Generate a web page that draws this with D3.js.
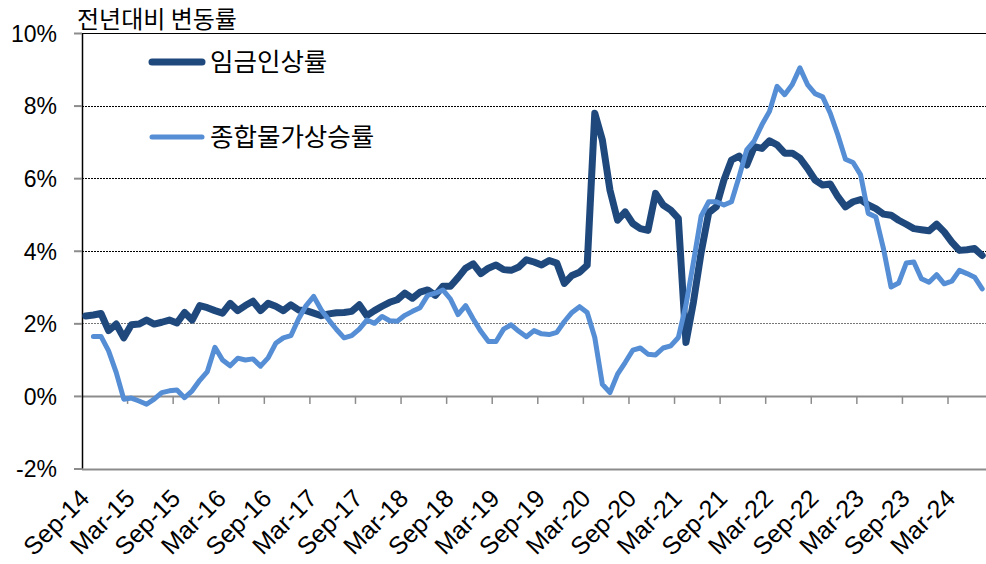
<!DOCTYPE html>
<html>
<head>
<meta charset="utf-8">
<script src="https://cdn.jsdelivr.net/npm/d3@7"></script>
<style>
  html, body { margin: 0; padding: 0; background: #fff; }
  svg { display: block; }
</style>
</head>
<body>
<div id="canvas"></div>
<script>
// monthly categories, Sep-14 .. Jul-24
const months = d3.timeMonth.range(new Date(2014, 8, 1), new Date(2024, 7, 1));

const tickLabels = ["Sep-14", "Mar-15", "Sep-15", "Mar-16", "Sep-16", "Mar-17", "Sep-17",
  "Mar-18", "Sep-18", "Mar-19", "Sep-19", "Mar-20", "Sep-20", "Mar-21", "Sep-21",
  "Mar-22", "Sep-22", "Mar-23", "Sep-23", "Mar-24"];

const yTicks = [-2, 0, 2, 4, 6, 8, 10];

const seriesNames = ["임금인상률", "종합물가상승률"];

// 임금인상률
const wage = [
  2.2, 2.23, 2.27, 1.8, 1.98, 1.6, 1.96, 1.98, 2.09, 1.98,
  2.03, 2.09, 2.01, 2.3, 2.09, 2.49, 2.43, 2.35, 2.28, 2.55,
  2.35, 2.49, 2.61, 2.35, 2.55, 2.47, 2.35, 2.51, 2.37, 2.35,
  2.28, 2.21, 2.26, 2.29, 2.3, 2.33, 2.51, 2.21, 2.35, 2.47,
  2.58, 2.65, 2.83, 2.69, 2.86, 2.92, 2.77, 3.02, 3.02, 3.26,
  3.52, 3.64, 3.37, 3.52, 3.61, 3.48, 3.46, 3.55, 3.75, 3.69,
  3.61, 3.73, 3.66, 3.1, 3.32, 3.41, 3.6, 7.79, 7.05, 5.67,
  4.84, 5.07, 4.75, 4.61, 4.56, 5.58, 5.26, 5.12, 4.89, 1.47,
  2.6, 3.95, 5.05, 5.21, 5.95, 6.5, 6.61, 6.36, 6.87, 6.82,
  7.03, 6.92, 6.69, 6.69, 6.55, 6.27, 5.95, 5.81, 5.84, 5.49,
  5.21, 5.35, 5.41, 5.26, 5.16, 5.01, 4.98, 4.84, 4.73, 4.61,
  4.58, 4.55, 4.73, 4.52, 4.24, 4.01, 4.03, 4.06, 3.87
];

// 종합물가상승률
const cpi = [
  null, 1.64, 1.64, 1.24, 0.65, -0.09, -0.06, -0.14, -0.23, -0.09,
  0.09, 0.14, 0.16, -0.05, 0.14, 0.43, 0.67, 1.34, 0.99, 0.83,
  1.04, 0.99, 1.02, 0.82, 1.05, 1.45, 1.6, 1.66, 2.12, 2.49,
  2.74, 2.37, 2.09, 1.83, 1.6, 1.66, 1.84, 2.09, 2.0, 2.19,
  2.07, 2.06, 2.22, 2.33, 2.43, 2.77, 2.83, 2.92, 2.67, 2.24,
  2.49, 2.12, 1.78, 1.5, 1.5, 1.84, 1.96, 1.78, 1.63, 1.8,
  1.71, 1.69, 1.75, 2.05, 2.3, 2.46, 2.3, 1.61, 0.32, 0.09,
  0.6, 0.92, 1.26, 1.32, 1.15, 1.13, 1.32, 1.38, 1.61, 2.5,
  3.7, 4.95, 5.35, 5.35, 5.26, 5.35, 6.04, 6.78, 7.03, 7.47,
  7.84, 8.53, 8.3, 8.58, 9.04, 8.58, 8.33, 8.24, 7.79, 7.19,
  6.52, 6.43, 6.09, 5.03, 4.93, 4.06, 3.0, 3.11, 3.66, 3.69,
  3.23, 3.13, 3.34, 3.09, 3.16, 3.46, 3.37, 3.27, 2.95
];

const colors = ["#1F497D", "#558ED5"];
const widths = [7, 5];

const width = 986;
const height = 564;
const margin = { top: 33, left: 82, bottom: 95.5, right: 0 };

const korFont = "'Noto Sans CJK KR', 'Noto Sans', sans-serif";
const numFont = "'Liberation Sans', Arial, sans-serif";

const svg = d3.select("#canvas").append("svg")
  .attr("width", width)
  .attr("height", height);

const fmt = d3.timeFormat("%b-%y");

const x = d3.scaleBand()
  .domain(months.map(fmt))
  .range([margin.left, width - margin.right])
  .paddingInner(0)
  .paddingOuter(0);

const y = d3.scaleLinear()
  .domain([-2, 10])
  .range([height - margin.bottom, margin.top]);

const cx = (i) => x(fmt(months[i])) + x.bandwidth() / 2;

// gridlines
svg.append("g")
  .selectAll("line")
  .data(yTicks)
  .join("line")
  .attr("x1", margin.left)
  .attr("x2", width - margin.right)
  .attr("y1", (d) => Math.round(y(d)) + 0.5)
  .attr("y2", (d) => Math.round(y(d)) + 0.5)
  .attr("stroke", (d) => (d === 10 ? "#000" : d <= 0 ? "#8c8c8c" : d === 2 ? "#777" : "#000"))
  .attr("stroke-width", (d) => (d <= 0 ? 2 : 1))
  .attr("stroke-dasharray", (d) => (d === 10 || d <= 0 ? null : "2,1"));

// y axis
const yAxis = svg.append("g")
  .attr("transform", `translate(${margin.left},0)`)
  .call(d3.axisLeft(y).tickValues(yTicks).tickSize(8).tickFormat((d) => d + "%"));
yAxis.select(".domain").attr("stroke", "#000").attr("stroke-width", 1.5)
  .attr("d", `M0.5,${y(-2)}V${y(10)}`);
yAxis.selectAll(".tick line").attr("stroke", "#8c8c8c").attr("stroke-width", 2);
yAxis.selectAll(".tick text")
  .attr("x", -25)
  .attr("dy", "0.36em")
  .style("font-family", numFont)
  .style("font-size", "23px")
  .attr("fill", "#000");

// x axis ticks on the 0% line, at category boundaries every 6 months
const boundaries = d3.range(6, months.length, 6);
svg.append("g")
  .selectAll("line")
  .data(boundaries)
  .join("line")
  .attr("x1", (i) => x(fmt(months[i])))
  .attr("x2", (i) => x(fmt(months[i])))
  .attr("y1", y(0))
  .attr("y2", y(0) + 8)
  .attr("stroke", "#8c8c8c")
  .attr("stroke-width", 1.5);

// x tick labels, low position, rotated
svg.append("g")
  .selectAll("text")
  .data(tickLabels)
  .join("text")
  .attr("transform", (d) => `translate(${x(d) + x.bandwidth() / 2 + 5},${y(-2) + 31.5}) rotate(-45)`)
  .attr("text-anchor", "end")
  .style("font-family", numFont)
  .style("font-size", "25px")
  .attr("fill", "#000")
  .text((d) => d);

// series lines
const line = d3.line()
  .defined((d) => d != null)
  .x((d, i) => cx(i))
  .y((d) => y(d));

[wage, cpi].forEach((s, k) => {
  svg.append("path")
    .datum(s)
    .attr("fill", "none")
    .attr("stroke", colors[k])
    .attr("stroke-width", widths[k])
    .attr("stroke-linejoin", "round")
    .attr("stroke-linecap", "round")
    .attr("d", line);
});

// title
svg.append("text")
  .attr("x", 77)
  .attr("y", 28)
  .style("font-family", korFont)
  .style("font-size", "24px")
  .attr("fill", "#000")
  .text("전년대비 변동률");

// legend
const legendY = [62, 137];
seriesNames.forEach((name, k) => {
  svg.append("line")
    .attr("x1", 152).attr("x2", 202)
    .attr("y1", legendY[k]).attr("y2", legendY[k])
    .attr("stroke", colors[k])
    .attr("stroke-width", widths[k])
    .attr("stroke-linecap", "round");
  svg.append("text")
    .attr("x", 210)
    .attr("y", legendY[k])
    .attr("dy", "0.35em")
    .style("font-family", korFont)
    .style("font-size", "25.5px")
    .attr("fill", "#000")
    .text(name);
});
</script>
</body>
</html>
